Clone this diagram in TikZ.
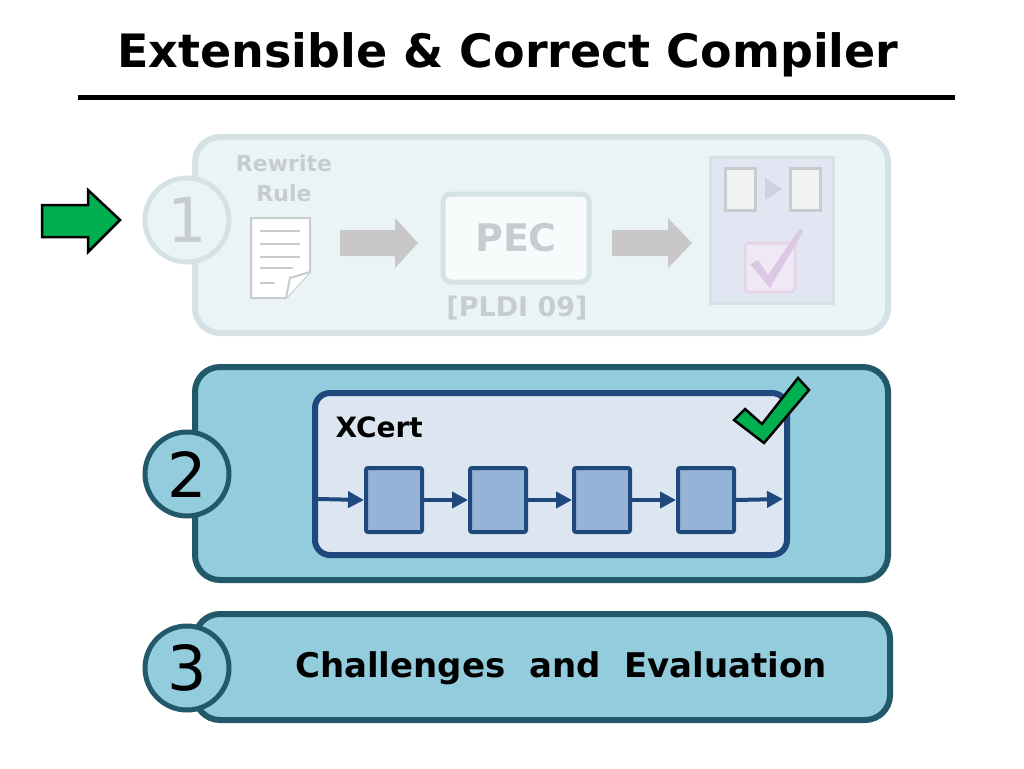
\documentclass[tikz,border=0pt]{standalone}
\usepackage{fontspec}
\setmainfont{DejaVu Sans}
\usetikzlibrary{arrows.meta}
\definecolor{teal1}{RGB}{147,205,221}
\definecolor{tealdk}{RGB}{33,89,104}
\definecolor{navy}{RGB}{31,73,125}
\definecolor{cellc}{RGB}{149,179,215}
\definecolor{xbg}{RGB}{220,230,240}
\definecolor{fadebg}{RGB}{234,244,247}
\definecolor{fadeln}{RGB}{212,226,230}
\definecolor{fadetx}{RGB}{198,204,207}
\definecolor{fadear}{RGB}{200,200,200}
\definecolor{gr}{RGB}{0,176,80}
\definecolor{rpbg}{RGB}{226,230,242}
\definecolor{lgray}{RGB}{242,242,242}
\definecolor{tri}{RGB}{205,212,224}
\definecolor{cbbg}{RGB}{240,232,245}
\definecolor{cbln}{RGB}{228,214,232}
\definecolor{cbck}{RGB}{220,200,228}
\tikzset{
 panel/.style={draw=tealdk,fill=teal1,line width=6pt,rounded corners=25pt},
 numc/.style={circle,draw=tealdk,fill=teal1,line width=5pt,minimum size=84pt,inner sep=0pt,font=\fontsize{62}{62}\selectfont},
 cell/.style={draw=navy,fill=cellc,line width=4pt,rounded corners=2pt},
 flow/.style={navy,line width=4pt,-{Triangle[length=16pt,width=16pt]}},
}
\begin{document}
\begin{tikzpicture}[x=1pt,y=-1pt]
\useasboundingbox (0,0) rectangle (1024,768);
\node (title) at (508,55) {\fontsize{46}{46}\selectfont\bfseries Extensible \& Correct Compiler};
\draw[line width=5pt] (78,97) -- (955,97);
% panel 1 (faded)
\draw[draw=fadeln,fill=fadebg,line width=6pt,rounded corners=25pt] (195,137) rectangle (888,333);
\node[numc,draw=fadeln,fill=fadebg,text=fadetx] (n1) at (187,220) {1};
\node[text=fadetx,font=\bfseries\fontsize{22}{30}\selectfont,align=center] (rw) at (284,178) {Rewrite\\Rule};
\draw[fadetx,fill=white,line width=2pt] (251,218) -- (310,218) -- (310,272) -- (286,298) -- (251,298) -- cycle;
\draw[fadetx,fill=white,line width=2pt] (310,272) -- (290,278) -- (286,298);
\foreach \yy/\xe in {231/300,244/300,257/300,268/293,283/275} \draw[fadetx,line width=1.5pt] (260,\yy) -- (\xe,\yy);
\fill[fadear] (340,230) -- (395,230) -- (395,218) -- (418,243) -- (395,268) -- (395,256) -- (340,256) -- cycle;
\node[draw=fadeln,fill=white!60!fadebg,line width=5pt,rounded corners=8pt,minimum width=146pt,minimum height=88pt,text=fadetx,font=\bfseries\fontsize{38}{38}\selectfont] (pec) at (516,238) {PEC};
\node[text=fadetx,font=\bfseries\fontsize{27}{27}\selectfont] (pldi) at (517,308) {[PLDI 09]};
\fill[fadear] (612,230) -- (668,230) -- (668,218) -- (692,243) -- (668,268) -- (668,256) -- (612,256) -- cycle;
\draw[fill=rpbg,draw=fadeln,line width=3pt] (710,157) rectangle (833,303);
\draw[fill=lgray,draw=fadetx,line width=3pt] (725,168) rectangle (755,210);
\draw[fill=lgray,draw=fadetx,line width=3pt] (790,168) rectangle (820,210);
\fill[tri] (765,178) -- (782,189) -- (765,200) -- cycle;
\draw[fill=cbbg,draw=cbln,line width=3pt,rounded corners=4pt] (745,243) rectangle (795,292);
\fill[cbck] (750,264) -- (758,260) -- (768,275) -- (800,228) -- (803,232) -- (770,288) -- cycle;
% left green arrow
\draw[fill=gr,line width=2.5pt] (42,205) -- (88,205) -- (88,190) -- (120,220) -- (88,252) -- (88,237) -- (42,237) -- cycle;
% panel 2
\draw[panel] (195,367) rectangle (888,580);
\node[numc] (n2) at (187,474) {2};
\draw[draw=navy,fill=xbg,line width=6pt,rounded corners=15pt] (315,393) rectangle (787,555);
\node[anchor=west,font=\bfseries\fontsize{28}{28}\selectfont] (xc) at (332,427) {XCert};
\node[cell,minimum width=56pt,minimum height=64pt] (c1) at (394,500) {};
\node[cell,minimum width=56pt,minimum height=64pt] (c2) at (498,500) {};
\node[cell,minimum width=56pt,minimum height=64pt] (c3) at (602,500) {};
\node[cell,minimum width=56pt,minimum height=64pt] (c4) at (706,500) {};
\coordinate (in) at (318,499);
\coordinate (out) at (783,499);
\draw[flow] (in) -- (c1.west);
\draw[flow] (c1.east) -- (c2.west);
\draw[flow] (c2.east) -- (c3.west);
\draw[flow] (c3.east) -- (c4.west);
\draw[flow] (c4.east) -- (out);
\draw[fill=gr,line width=2.5pt,line join=miter] (734,420) -- (745,409) -- (762,424) -- (798,378) -- (809,390) -- (764,443) -- cycle;
% panel 3
\draw[panel] (195,614) rectangle (890,720);
\node[numc] (n3) at (187,668) {3};
\node[font=\bfseries\fontsize{34}{34}\selectfont] (ch) at (561,668) {Challenges\ \ and\ \ Evaluation};
\end{tikzpicture}
\end{document}
